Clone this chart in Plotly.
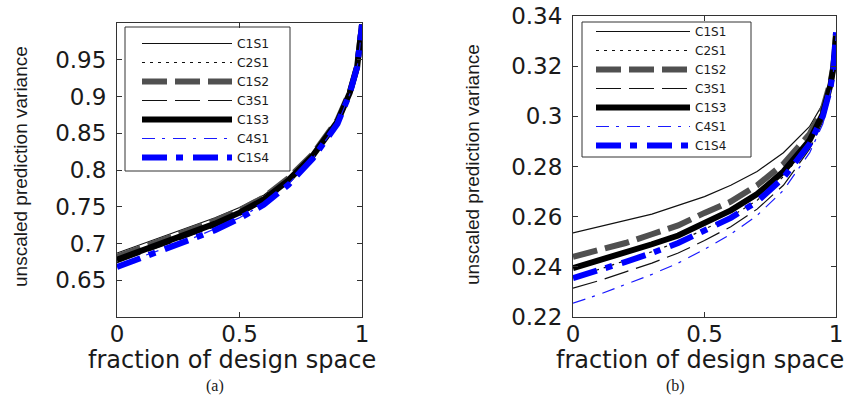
import plotly.graph_objects as go

# ---------------- data ----------------
frac = [0.0, 0.1, 0.2, 0.3, 0.4, 0.5, 0.6, 0.7, 0.8, 0.9, 0.95, 0.98, 0.99, 1.0]

series_names = ["C1S1", "C2S1", "C1S2", "C3S1", "C1S3", "C4S1", "C1S4"]

# panel (a)
a_C1S1 = [0.687, 0.699, 0.710, 0.722, 0.735, 0.749, 0.766, 0.791, 0.824, 0.869, 0.907, 0.941, 0.966, 0.998]
a_C2S1 = [0.676, 0.688, 0.700, 0.712, 0.725, 0.740, 0.758, 0.784, 0.819, 0.865, 0.904, 0.940, 0.965, 0.998]
a_C1S2 = [0.682, 0.694, 0.706, 0.718, 0.731, 0.745, 0.763, 0.789, 0.822, 0.868, 0.906, 0.941, 0.966, 0.998]
a_C3S1 = [0.674, 0.686, 0.698, 0.710, 0.723, 0.738, 0.757, 0.783, 0.818, 0.864, 0.904, 0.939, 0.964, 0.997]
a_C1S3 = [0.678, 0.690, 0.702, 0.714, 0.727, 0.742, 0.760, 0.786, 0.820, 0.866, 0.905, 0.940, 0.965, 0.998]
a_C4S1 = [0.670, 0.682, 0.694, 0.706, 0.720, 0.735, 0.754, 0.781, 0.816, 0.863, 0.903, 0.939, 0.964, 0.997]
a_C1S4 = [0.668, 0.680, 0.692, 0.704, 0.718, 0.734, 0.753, 0.780, 0.816, 0.863, 0.904, 0.940, 0.965, 0.998]

# panel (b)
b_C1S1 = [0.2535, 0.2560, 0.2585, 0.2610, 0.2645, 0.2680, 0.2725, 0.2780, 0.2855, 0.2960, 0.3050, 0.3150, 0.3210, 0.3330]
b_C2S1 = [0.2360, 0.2390, 0.2425, 0.2460, 0.2500, 0.2550, 0.2600, 0.2665, 0.2760, 0.2895, 0.3005, 0.3120, 0.3190, 0.3330]
b_C1S2 = [0.2440, 0.2465, 0.2495, 0.2530, 0.2565, 0.2615, 0.2660, 0.2725, 0.2810, 0.2930, 0.3030, 0.3140, 0.3200, 0.3330]
b_C3S1 = [0.2315, 0.2345, 0.2380, 0.2415, 0.2455, 0.2505, 0.2560, 0.2630, 0.2725, 0.2870, 0.2980, 0.3110, 0.3180, 0.3320]
b_C1S3 = [0.2395, 0.2425, 0.2455, 0.2490, 0.2525, 0.2575, 0.2625, 0.2690, 0.2780, 0.2905, 0.3010, 0.3130, 0.3195, 0.3320]
b_C4S1 = [0.2255, 0.2290, 0.2330, 0.2370, 0.2415, 0.2470, 0.2530, 0.2605, 0.2705, 0.2855, 0.2970, 0.3100, 0.3175, 0.3320]
b_C1S4 = [0.2355, 0.2385, 0.2420, 0.2455, 0.2495, 0.2545, 0.2595, 0.2660, 0.2755, 0.2890, 0.3000, 0.3120, 0.3190, 0.3335]

a_ticks = [0.65, 0.7, 0.75, 0.8, 0.85, 0.9, 0.95]
a_ticktext = ["0.65", "0.7", "0.75", "0.8", "0.85", "0.9", "0.95"]
b_ticks = [0.22, 0.24, 0.26, 0.28, 0.30, 0.32, 0.34]
b_ticktext = ["0.22", "0.24", "0.26", "0.28", "0.3", "0.32", "0.34"]
x_ticks = [0, 0.5, 1]
x_ticktext = ["0", "0.5", "1"]

x_title = "fraction of design space"
y_title = "unscaled prediction variance"
panel_labels = ["(a)", "(b)"]

# ---------------- styles ----------------
styles = {
    "C1S1": dict(color="#111111", width=1.2, dash="solid"),
    "C2S1": dict(color="#111111", width=1.2, dash="3px,5px"),
    "C1S2": dict(color="#505050", width=6, dash="25px,8px"),
    "C3S1": dict(color="#111111", width=1.2, dash="25px,8px"),
    "C1S3": dict(color="#000000", width=6, dash="solid"),
    "C4S1": dict(color="#1a1aff", width=1.2, dash="13px,7px,3px,8px"),
    "C1S4": dict(color="#0000ff", width=6, dash="25px,9px,7px,10px"),
}

a_data = dict(C1S1=a_C1S1, C2S1=a_C2S1, C1S2=a_C1S2, C3S1=a_C3S1, C1S3=a_C1S3, C4S1=a_C4S1, C1S4=a_C1S4)
b_data = dict(C1S1=b_C1S1, C2S1=b_C2S1, C1S2=b_C1S2, C3S1=b_C3S1, C1S3=b_C1S3, C4S1=b_C4S1, C1S4=b_C1S4)

fig = go.Figure()
for name in series_names:
    fig.add_trace(go.Scatter(x=frac, y=a_data[name], name=name, mode="lines",
                             line=styles[name], xaxis="x", yaxis="y", legend="legend"))
for name in series_names:
    fig.add_trace(go.Scatter(x=frac, y=b_data[name], name=name, mode="lines",
                             line=styles[name], xaxis="x2", yaxis="y2", legend="legend2"))

W, H = 851, 398
TXT = "#1a1a1a"
tickfont = dict(family="DejaVu Sans", size=23, color=TXT)
axis_common = dict(showline=True, linecolor="#333333", linewidth=1, mirror="allticks",
                   ticks="inside", ticklen=5, tickcolor="#333333", tickwidth=1,
                   showgrid=False, zeroline=False, automargin=False, tickfont=tickfont)

fig.update_layout(
    width=W, height=H, template=None,
    paper_bgcolor="white", plot_bgcolor="white",
    margin=dict(l=0, r=0, t=0, b=0),
    showlegend=True,
    xaxis=dict(domain=[117 / W, 362 / W], range=[0, 1], tickvals=x_ticks, ticktext=x_ticktext,
               anchor="y", ticklabelstandoff=-4, **axis_common),
    yaxis=dict(domain=[81 / H, 375 / H], range=[0.6, 1.0], tickvals=a_ticks, ticktext=a_ticktext,
               anchor="x", ticklabelstandoff=5, **axis_common),
    xaxis2=dict(domain=[573 / W, 836 / W], range=[0, 1], tickvals=x_ticks, ticktext=x_ticktext,
                anchor="y2", ticklabelstandoff=-4, **axis_common),
    yaxis2=dict(domain=[81 / H, 382 / H], range=[0.22, 0.34], tickvals=b_ticks, ticktext=b_ticktext,
                anchor="x2", ticklabelstandoff=5, **axis_common),
    legend=dict(x=137 / W, y=1 - 29 / H, xanchor="left", yanchor="top",
                bgcolor="rgba(0,0,0,0)", borderwidth=0,
                font=dict(family="DejaVu Sans", size=12.3, color=TXT),
                itemwidth=90, tracegroupgap=0),
    legend2=dict(x=591 / W, y=1 - 17 / H, xanchor="left", yanchor="top",
                 bgcolor="rgba(0,0,0,0)", borderwidth=0,
                 font=dict(family="DejaVu Sans", size=12, color=TXT),
                 itemwidth=94, tracegroupgap=0),
    shapes=[
        dict(type="rect", xref="paper", yref="paper", layer="above",
             x0=125 / W, x1=290 / W, y0=1 - 171 / H, y1=1 - 27 / H,
             line=dict(color="#333333", width=1), fillcolor="rgba(0,0,0,0)"),
        dict(type="rect", xref="paper", yref="paper", layer="above",
             x0=582 / W, x1=751 / W, y0=1 - 157 / H, y1=1 - 22 / H,
             line=dict(color="#333333", width=1), fillcolor="rgba(0,0,0,0)"),
    ],
)

ann = []
for cx in (232, 700):
    ann.append(dict(text=x_title, x=cx / W, y=1 - 360 / H, xref="paper", yref="paper",
                    xanchor="center", yanchor="middle", showarrow=False,
                    font=dict(family="DejaVu Sans", size=24, color=TXT)))
for cx, cy in ((20, 167), (473, 165)):
    ann.append(dict(text=y_title, x=cx / W, y=1 - cy / H, xref="paper", yref="paper", textangle=-90,
                    xanchor="center", yanchor="middle", showarrow=False,
                    font=dict(family="Liberation Sans", size=19, color=TXT)))
for lbl, cx in zip(panel_labels, (215, 675)):
    ann.append(dict(text=lbl, x=cx / W, y=1 - 386 / H, xref="paper", yref="paper",
                    xanchor="center", yanchor="middle", showarrow=False,
                    font=dict(family="Liberation Serif", size=16, color=TXT)))
fig.update_layout(annotations=ann)

fig.write_html("out.html", config={"displayModeBar": False},
               post_script="document.body.style.margin='0px';document.body.style.overflow='hidden';")
